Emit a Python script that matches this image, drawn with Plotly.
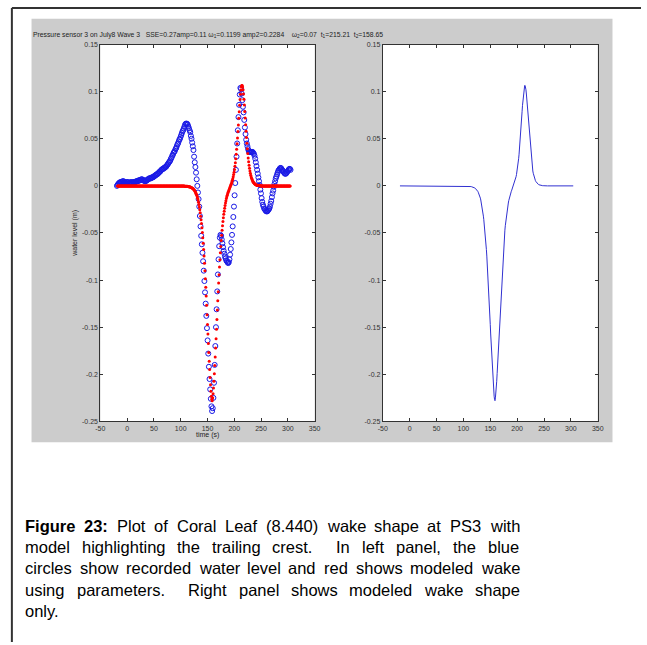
import numpy as np
import plotly.graph_objects as go

W, H = 647, 645
FONT = "Liberation Sans, Arial, Helvetica, sans-serif"

# ---------------------------------------------------------------- data
# recorded water level (m) at PS3, one sample every 1.2 s starting at t = -19 s
data_t0, data_dt = -19.0, 1.2
data_wl = [
    0.000, 0.001, 0.002, 0.003, 0.003, 0.004, 0.004, 0.004, 0.004, 0.005,
    0.005, 0.004, 0.004, 0.003, 0.003, 0.004, 0.004, 0.004, 0.003, 0.003,
    0.003, 0.004, 0.004, 0.003, 0.003, 0.004, 0.004, 0.004, 0.004, 0.004,
    0.005, 0.005, 0.005, 0.005, 0.006, 0.006, 0.006, 0.006, 0.007, 0.007,
    0.006, 0.006, 0.006, 0.005, 0.005, 0.005, 0.006, 0.006, 0.007, 0.007,
    0.008, 0.008, 0.008, 0.008, 0.009, 0.009, 0.009, 0.010, 0.010, 0.011,
    0.011, 0.012, 0.012, 0.013, 0.013, 0.014, 0.015, 0.015, 0.016, 0.017,
    0.0175, 0.018, 0.018, 0.019, 0.019, 0.020, 0.020, 0.021, 0.022, 0.023,
    0.024, 0.025, 0.026, 0.027, 0.029, 0.030, 0.032, 0.033, 0.035, 0.036,
    0.037, 0.039, 0.040, 0.042, 0.044, 0.045, 0.047, 0.049, 0.050, 0.052,
    0.054, 0.056, 0.058, 0.059, 0.061, 0.063, 0.065, 0.066, 0.066, 0.066,
    0.065, 0.063, 0.061, 0.059, 0.057, 0.053, 0.050, 0.046, 0.042, 0.038,
    0.031, 0.025, 0.020, 0.014, 0.007, 0.000, -0.007, -0.014, -0.022, -0.032,
    -0.043, -0.053, -0.062, -0.071, -0.080, -0.090, -0.101, -0.113, -0.125, -0.138,
    -0.151, -0.164, -0.178, -0.192, -0.205, -0.216, -0.226, -0.234, -0.239, -0.236,
    -0.225, -0.209, -0.190, -0.170, -0.150, -0.131, -0.112, -0.094, -0.078, -0.064,
    -0.055, -0.052, -0.053, -0.057, -0.061, -0.065, -0.069, -0.072, -0.075, -0.077,
    -0.079, -0.080, -0.081, -0.082, -0.081, -0.078, -0.073, -0.067, -0.060, -0.052,
    -0.043, -0.033, -0.022, -0.010, 0.003, 0.017, 0.031, 0.045, 0.059, 0.073,
    0.086, 0.097, 0.104, 0.103, 0.098, 0.091, 0.084, 0.078, 0.070, 0.062,
    0.055, 0.049, 0.045, 0.042, 0.039, 0.037, 0.036, 0.036, 0.036, 0.036,
    0.036, 0.036, 0.035, 0.034, 0.032, 0.029, 0.025, 0.021, 0.017, 0.013,
    0.009, 0.005, 0.001, -0.004, -0.008, -0.013, -0.017, -0.020, -0.022, -0.024,
    -0.025, -0.026, -0.027, -0.027, -0.027, -0.026, -0.025, -0.024, -0.022, -0.019,
    -0.016, -0.012, -0.008, -0.005, -0.001, 0.002, 0.005, 0.008, 0.010, 0.012,
    0.014, 0.016, 0.017, 0.018, 0.019, 0.019, 0.018, 0.017, 0.016, 0.015,
    0.014, 0.013, 0.013, 0.013, 0.014, 0.015, 0.016, 0.017, 0.018, 0.018, 0.017,
]

# modeled wake (m), one value every 0.8 s starting at t = -18 s
model_t0, model_dt = -18.0, 0.8
model_wl = [
    # t = -18.0 ... 97.2  (flat)
    0, 0, 0, 0, 0, 0, 0, 0, 0, 0, 0, 0, 0, 0, 0, 0, 0, 0, 0, 0,
    0, 0, 0, 0, 0, 0, 0, 0, 0, 0, 0, 0, 0, 0, 0, 0, 0, 0, 0, 0,
    0, 0, 0, 0, 0, 0, 0, 0, 0, 0, 0, 0, 0, 0, 0, 0, 0, 0, 0, 0,
    0, 0, 0, 0, 0, 0, 0, 0, 0, 0, 0, 0, 0, 0, 0, 0, 0, 0, 0, 0,
    0, 0, 0, 0, 0, 0, 0, 0, 0, 0, 0, 0, 0, 0, 0, 0, 0, 0, 0, 0,
    0, 0, 0, 0, 0, 0, 0, 0, 0, 0, 0, 0, 0, 0, 0, 0, 0, 0, 0, 0,
    0, 0, 0, 0, 0, 0, 0, 0, 0, 0, 0, 0, 0, 0, 0, 0, 0, 0, 0, 0,
    0, 0, 0, 0, 0,
    # t = 98.0 ... 250.0
    0.0000, -0.0001, -0.0001, -0.0001, -0.0001, -0.0001, -0.0001, -0.0001, -0.0001, -0.0002,
    -0.0002, -0.0002, -0.0003, -0.0003, -0.0003, -0.0004, -0.0004, -0.0005, -0.0005, -0.0006,
    -0.0007, -0.0008, -0.0009, -0.0010, -0.0011, -0.0013, -0.0015, -0.0017, -0.0019, -0.0022,
    -0.0025, -0.0029, -0.0033, -0.0038, -0.0044, -0.0050, -0.0058, -0.0067, -0.0077, -0.0088,
    -0.0100, -0.0114, -0.0130, -0.0150, -0.0173, -0.0198, -0.0225, -0.0254, -0.0286, -0.0321,
    -0.0359, -0.0400, -0.0445, -0.0495, -0.0550, -0.0610, -0.0675, -0.0745, -0.0820, -0.0900,
    -0.0985, -0.1075, -0.1170, -0.1268, -0.1368, -0.1470, -0.1572, -0.1672, -0.1769, -0.1862,
    -0.1950, -0.2035, -0.2112, -0.2180, -0.2232, -0.2268, -0.2280, -0.2250, -0.2206, -0.2146,
    -0.2074, -0.1993, -0.1906, -0.1816, -0.1721, -0.1622, -0.1521, -0.1419, -0.1318, -0.1219,
    -0.1123, -0.1030, -0.0943, -0.0860, -0.0783, -0.0710, -0.0643, -0.0580, -0.0523, -0.0470,
    -0.0423, -0.0379, -0.0339, -0.0302, -0.0268, -0.0237, -0.0209, -0.0182, -0.0157, -0.0134,
    -0.0115, -0.0099, -0.0084, -0.0071, -0.0057, -0.0045, -0.0032, -0.0020, -0.0009, 0.0003,
    0.0016, 0.0029, 0.0043, 0.0059, 0.0077, 0.0097, 0.0120, 0.0146, 0.0175, 0.0208,
    0.0246, 0.0288, 0.0336, 0.0389, 0.0447, 0.0509, 0.0576, 0.0646, 0.0717, 0.0787,
    0.0855, 0.0918, 0.0973, 0.1018, 0.1049, 0.1065, 0.1066, 0.1050, 0.1020, 0.0975,
    0.0920, 0.0858, 0.0790, 0.0720, 0.0650, 0.0580, 0.0514, 0.0452, 0.0395, 0.0343,
    0.0296, 0.0255, 0.0218, 0.0186, 0.0158, 0.0134, 0.0113, 0.0095, 0.0080, 0.0067,
    0.0056, 0.0047, 0.0039, 0.0032, 0.0027, 0.0022, 0.0018, 0.0015, 0.0012, 0.0010,
    0.0008, 0.0007, 0.0006, 0.0005, 0.0004, 0.0003, 0.0003, 0.0002, 0.0002, 0.0001,
    0.0001,
    # t = 250.8 ... 304.4  (flat)
    0, 0, 0, 0, 0, 0, 0, 0, 0, 0, 0, 0, 0, 0, 0, 0, 0, 0, 0, 0,
    0, 0, 0, 0, 0, 0, 0, 0, 0, 0, 0, 0, 0, 0, 0, 0, 0, 0, 0, 0,
    0, 0, 0, 0, 0, 0, 0, 0, 0, 0, 0, 0, 0, 0, 0, 0, 0, 0, 0, 0,
    0, 0, 0, 0, 0, 0, 0, 0,
]

x_tick_vals = [-50, 0, 50, 100, 150, 200, 250, 300, 350]
x_tick_text = ["-50", "0", "50", "100", "150", "200", "250", "300", "350"]
y_tick_vals = [0.15, 0.1, 0.05, 0, -0.05, -0.1, -0.15, -0.2, -0.25]
y_tick_text = ["0.15", "0.1", "0.05", "0", "-0.05", "-0.1", "-0.15", "-0.2", "-0.25"]

NB = "\u00a0"
title_text = (
    "Pressure sensor 3 on July8 Wave 3" + NB * 3 + "SSE=0.27amp=0.11 "
    "\u03c9<sub>1</sub>=0.1199 amp2=0.2284" + NB * 4 + "\u03c9<sub>2</sub>=0.07"
    + NB * 2 + "t<sub>1</sub>=215.21" + NB * 2 + "t<sub>2</sub>=158.65"
)

caption_lines = [
    "Figure 23: Plot of Coral Leaf (8.440) wake shape at PS3 with",
    "model highlighting the trailing crest.  In left panel, the blue",
    "circles show recorded water level and red shows modeled wake",
    "using parameters.  Right panel shows modeled wake shape",
    "only.",
]
bold_words = {"Figure", "23:"}

data_t = data_t0 + data_dt * np.arange(len(data_wl))
model_t = model_t0 + model_dt * np.arange(len(model_wl))


# ---------------------------------------------------------------- helpers
def fx(px):
    return px / W


def fy(py):
    return 1 - py / H


def axis(domain, anchor, vals, text, rng):
    return dict(
        domain=domain, anchor=anchor, range=rng,
        tickmode="array", tickvals=vals, ticktext=text,
        ticks="inside", ticklen=3, tickwidth=1, tickcolor="#333333",
        showline=True, linecolor="#333333", linewidth=1, mirror="ticks",
        showgrid=False, zeroline=False,
        tickfont=dict(family=FONT, size=7, color="#333333"),
    )


# Arial / Liberation Sans advance widths (1/1000 em) for the caption glyphs
REG_W = dict(zip("abcdefghijklmnopqrstuvwxyz",
                 [556, 556, 500, 556, 556, 278, 556, 556, 222, 222, 500, 222, 833,
                  556, 556, 556, 556, 333, 500, 278, 556, 500, 722, 500, 500, 500]))
REG_W.update({"F": 611, "P": 667, "C": 722, "L": 556, "S": 667, "I": 278, "R": 722,
              ".": 278, ",": 278, ":": 278, "(": 333, ")": 333, " ": 278})
BOLD_W = dict(zip("abcdefghijklmnopqrstuvwxyz",
                  [556, 611, 556, 611, 556, 333, 611, 611, 278, 278, 556, 278, 889,
                   611, 611, 611, 611, 389, 556, 333, 611, 556, 778, 556, 556, 500]))
BOLD_W.update({"F": 611, ":": 333, " ": 278})

CAP_SIZE = 16.5


def word_width(word, bold):
    table = BOLD_W if bold else REG_W
    return sum(table.get(ch, 556) for ch in word) / 1000.0 * CAP_SIZE


# ---------------------------------------------------------------- figure
fig = go.Figure()

fig.add_trace(go.Scatter(
    x=data_t, y=data_wl, mode="markers", xaxis="x", yaxis="y",
    marker=dict(symbol="circle-open", size=5, color="#1a1ae6", line=dict(width=1)),
    showlegend=False, hoverinfo="skip",
))
fig.add_trace(go.Scatter(
    x=model_t, y=model_wl, mode="markers", xaxis="x", yaxis="y",
    marker=dict(symbol="circle", size=3, color="#ff0000", line=dict(width=0)),
    showlegend=False, hoverinfo="skip",
))
fig.add_trace(go.Scatter(
    x=model_t, y=model_wl, mode="lines", xaxis="x2", yaxis="y2",
    line=dict(color="#3030d0", width=1),
    showlegend=False, hoverinfo="skip",
))

ydom = [fy(422), fy(41)]
xr, yr = [-50, 350], [-0.25, 0.15]

annotations = [
    dict(text=title_text, x=fx(28), y=fy(31), xanchor="left", yanchor="middle",
         borderpad=0, borderwidth=0,
         font=dict(family=FONT, size=6.8, color="#222222")),
    dict(text="time (s)", x=fx(206), y=fy(435.5), xanchor="center", yanchor="middle",
         borderpad=0, borderwidth=0,
         font=dict(family=FONT, size=7, color="#222222")),
    dict(text="water level (m)", textangle=-90, x=fx(71), y=fy(231.5),
         xanchor="center", yanchor="middle", borderpad=0, borderwidth=0,
         font=dict(family=FONT, size=7, color="#222222")),
]

# justified caption, laid out word by word
cap_left, cap_right = 20.7, 522.7
baseline0, line_gap = 533.3, 21.5
for k, line in enumerate(caption_lines):
    tokens = line.split(" ")
    words = [(w, w in bold_words) for w in tokens]
    total = sum(word_width(w, b) for w, b in words if w)
    n_spaces = len(tokens) - 1
    justify = k < len(caption_lines) - 1 and n_spaces > 0
    gap = (cap_right - cap_left - total) / n_spaces if justify else REG_W[" "] / 1000 * CAP_SIZE
    x = cap_left
    ymid = baseline0 + k * line_gap - 5.7
    for j, (w, b) in enumerate(words):
        if w:
            annotations.append(dict(
                text=f"<b>{w}</b>" if b else w, x=fx(x), y=fy(ymid),
                xanchor="left", yanchor="middle", borderpad=0, borderwidth=0,
                font=dict(family=FONT, size=CAP_SIZE, color="#000000")))
            x += word_width(w, b)
        if j < len(words) - 1:
            x += gap

for a in annotations:
    a.setdefault("xref", "paper")
    a.setdefault("yref", "paper")
    a.setdefault("showarrow", False)

shapes = [
    # grey figure window
    dict(type="rect", xref="paper", yref="paper", x0=fx(27), x1=fx(618), y0=fy(443), y1=fy(15),
         fillcolor="#cccccc", line=dict(width=0), layer="below"),
    # white axes areas
    dict(type="rect", xref="paper", yref="paper", x0=fx(97), x1=fx(315), y0=fy(422), y1=fy(41),
         fillcolor="#ffffff", line=dict(width=0), layer="below"),
    dict(type="rect", xref="paper", yref="paper", x0=fx(384.3), x1=fx(603), y0=fy(422), y1=fy(41),
         fillcolor="#ffffff", line=dict(width=0), layer="below"),
    # page frame
    dict(type="line", xref="paper", yref="paper", x0=fx(7), x1=fx(647), y0=fy(4), y1=fy(4),
         line=dict(color="#333333", width=2)),
    dict(type="line", xref="paper", yref="paper", x0=fx(7), x1=fx(7), y0=fy(4), y1=fy(645),
         line=dict(color="#333333", width=2)),
]

fig.update_layout(
    width=W, height=H, autosize=False,
    margin=dict(l=0, r=0, t=0, b=0),
    paper_bgcolor="#ffffff", plot_bgcolor="rgba(0,0,0,0)",
    xaxis=axis([fx(97), fx(315)], "y", x_tick_vals, x_tick_text, xr),
    yaxis=axis(ydom, "x", y_tick_vals, y_tick_text, yr),
    xaxis2=axis([fx(384.3), fx(603)], "y2", x_tick_vals, x_tick_text, xr),
    yaxis2=axis(ydom, "x2", y_tick_vals, y_tick_text, yr),
    annotations=annotations,
    shapes=shapes,
    showlegend=False,
)

fig.write_html("out.html")
